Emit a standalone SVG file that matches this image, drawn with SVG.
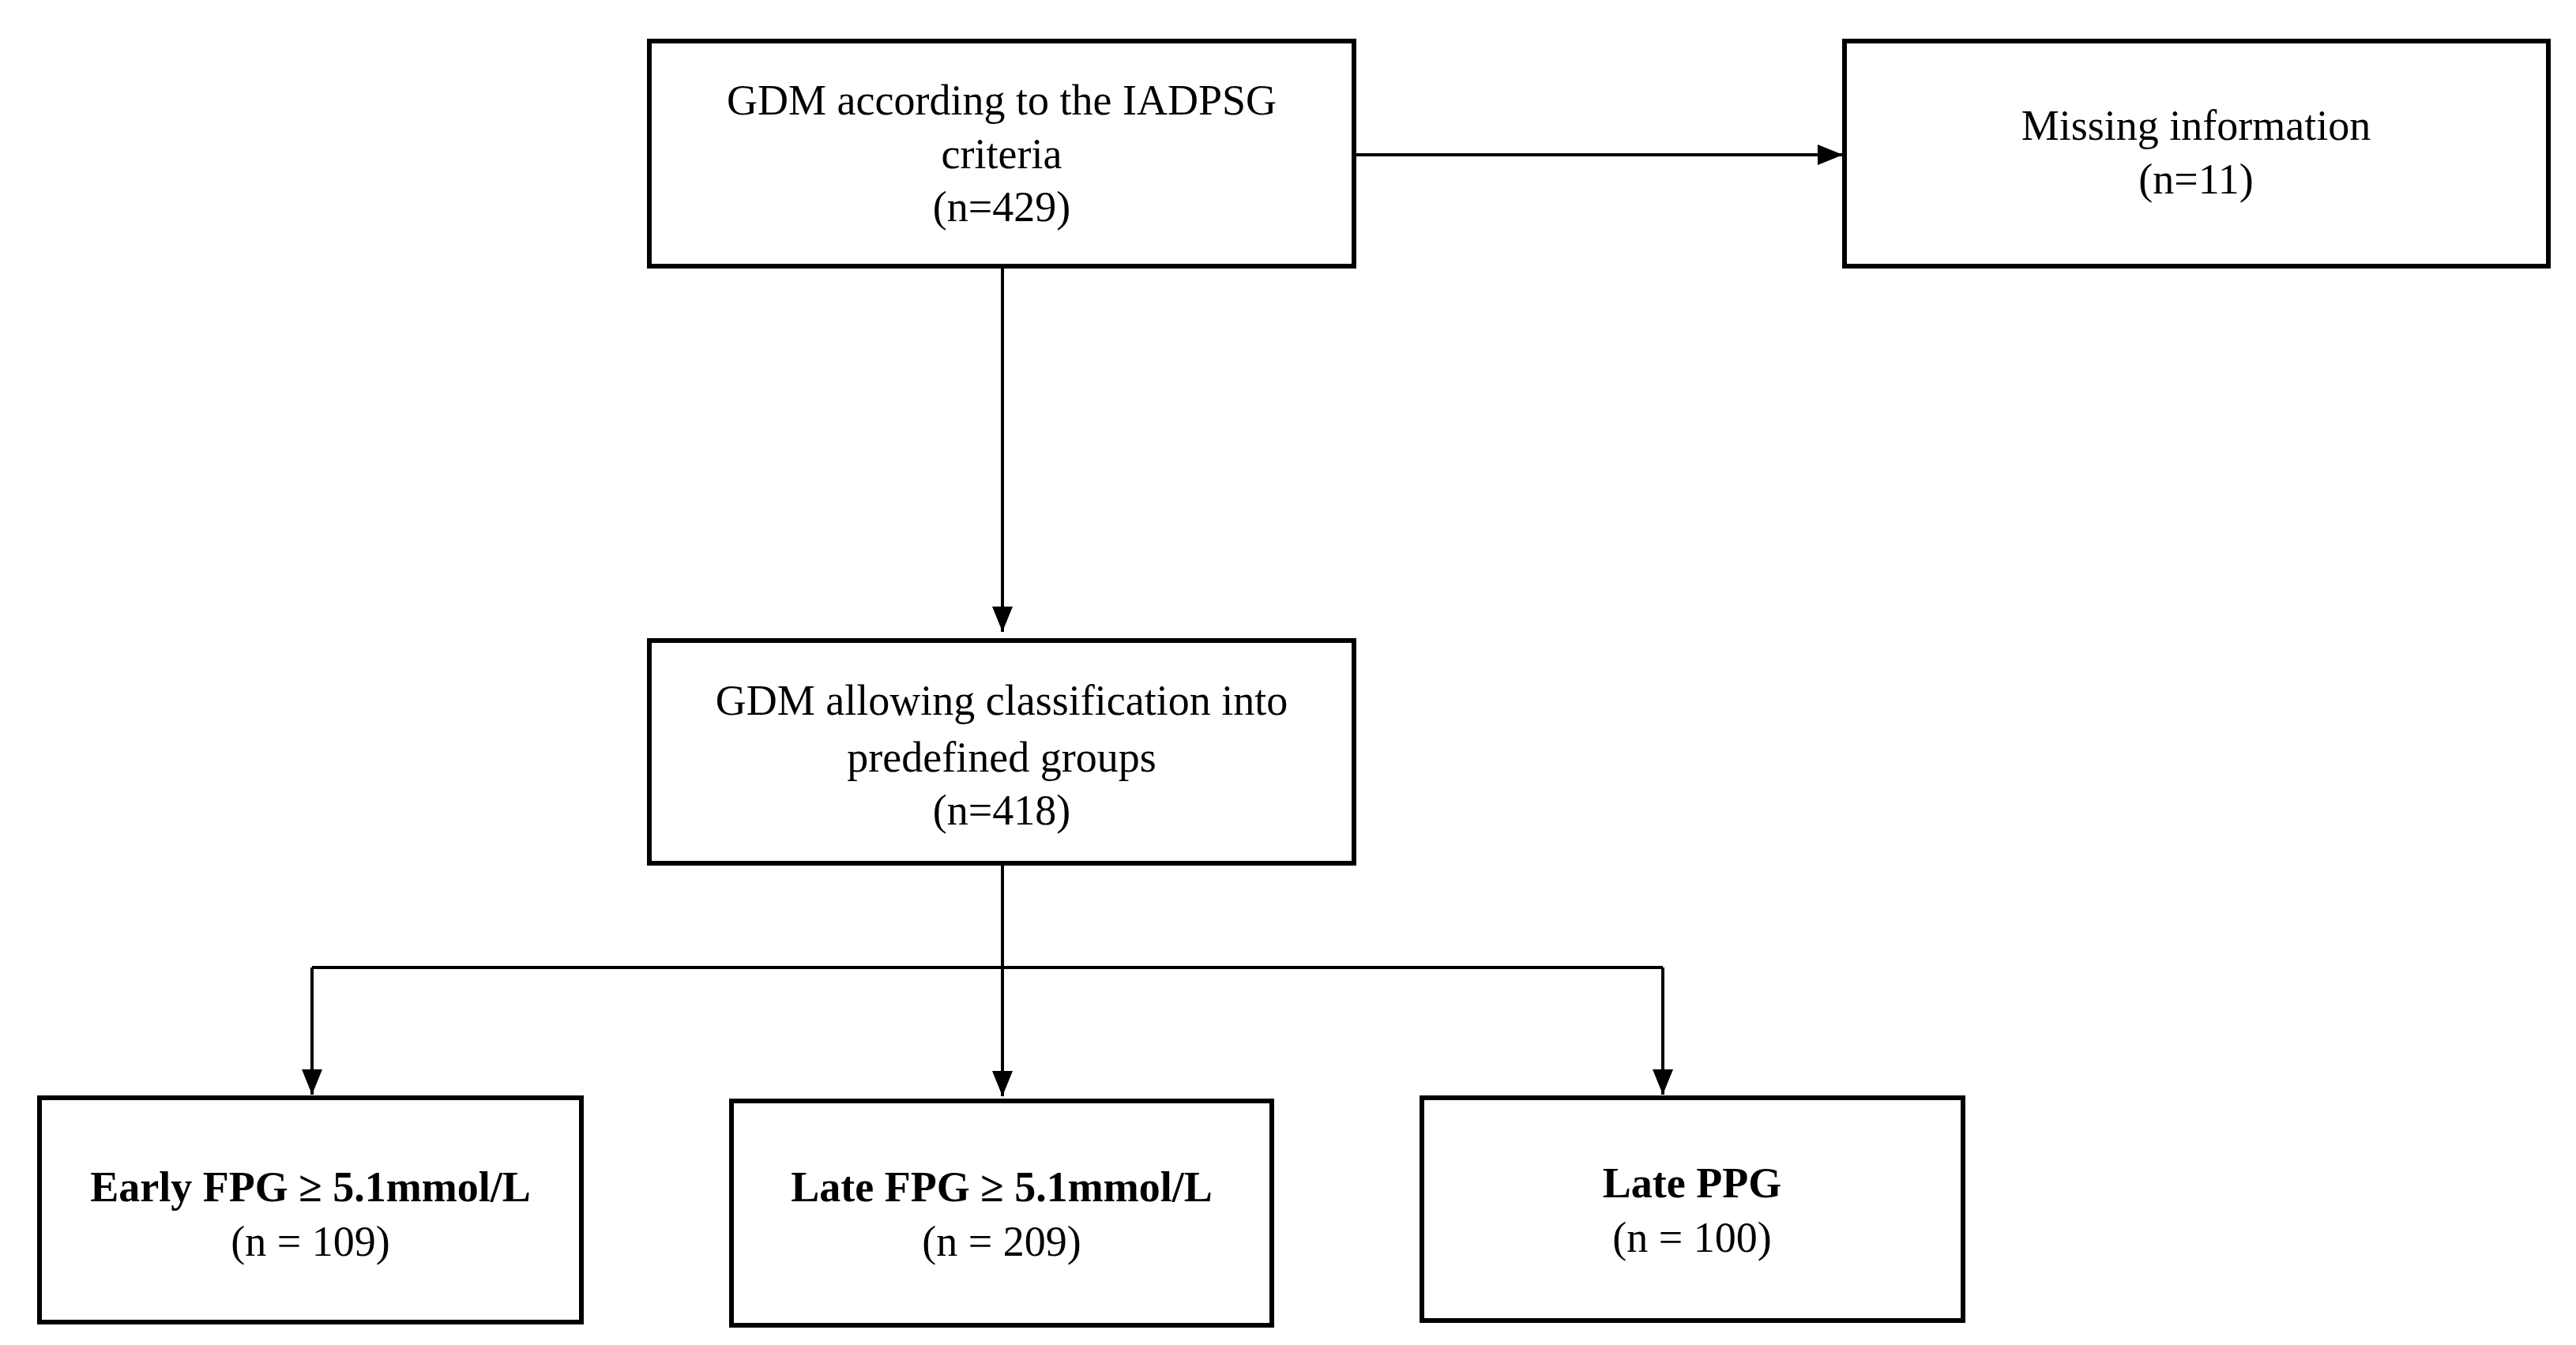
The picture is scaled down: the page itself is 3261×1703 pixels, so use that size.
<svg xmlns="http://www.w3.org/2000/svg" width="3261" height="1703" viewBox="0 0 3261 1703">
<style>
.b{fill:#fff;stroke:#000;stroke-width:6}
.t{font-family:"Liberation Serif",serif;font-size:54px;text-anchor:middle;fill:#000}
.bd{font-weight:bold}
.c{stroke:#000;stroke-width:4;fill:none}
</style>
<defs><marker id="a" viewBox="0 0 10 10" refX="10" refY="5" markerWidth="7" markerHeight="7" markerUnits="userSpaceOnUse" orient="auto"><path d="M0,0L10,5L0,10z"/></marker>
<marker id="m" viewBox="0 0 10 10" refX="10" refY="5" markerWidth="32" markerHeight="26" markerUnits="userSpaceOnUse" orient="auto" preserveAspectRatio="none"><path d="M0,0L10,5L0,10z"/></marker></defs>
<rect width="3261" height="1703" fill="#fff"/>
<g id="connectors">
<path class="c" d="M1714,196H2333" marker-end="url(#m)"/>
<path class="c" d="M1269,337V800" marker-end="url(#m)"/>
<path class="c" d="M1269,1093V1388" marker-end="url(#m)"/>
<path class="c" d="M395,1225H2105"/>
<path class="c" d="M395,1225V1386" marker-end="url(#m)"/>
<path class="c" d="M2105,1225V1386" marker-end="url(#m)"/>
</g>
<g id="n1"><rect class="b" x="822" y="52" width="892" height="285"/>
<text class="t" x="1268" y="145">GDM according to the IADPSG</text><text class="t" x="1268" y="213">criteria</text><text class="t" x="1268" y="280">(n=429)</text></g>
<g id="n2"><rect class="b" x="2335" y="52" width="891" height="285"/>
<text class="t" x="2780" y="177">Missing information</text><text class="t" x="2780" y="245">(n=11)</text></g>
<g id="n3"><rect class="b" x="822" y="811" width="892" height="282"/>
<text class="t" x="1268" y="905">GDM allowing classification into</text><text class="t" x="1268" y="977">predefined groups</text><text class="t" x="1268" y="1044">(n=418)</text></g>
<g id="n4"><rect class="b" x="50" y="1390" width="686" height="284"/>
<text class="t bd" x="393" y="1521">Early FPG ≥ 5.1mmol/L</text><text class="t" x="393" y="1590">(n = 109)</text></g>
<g id="n5"><rect class="b" x="926" y="1394" width="684" height="284"/>
<text class="t bd" x="1268" y="1521">Late FPG ≥ 5.1mmol/L</text><text class="t" x="1268" y="1590">(n = 209)</text></g>
<g id="n6"><rect class="b" x="1800" y="1390" width="685" height="282"/>
<text class="t bd" x="2142" y="1516">Late PPG</text><text class="t" x="2142" y="1585">(n = 100)</text></g>
</svg>
